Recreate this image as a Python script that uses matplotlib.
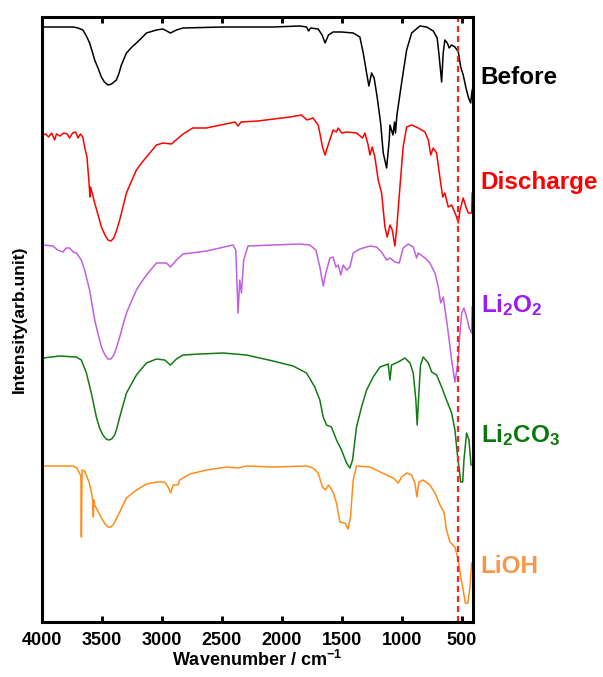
import matplotlib
matplotlib.use('Agg')
from matplotlib import pyplot as plt
from matplotlib import rc

# pogrubiona czcionka typu Arial, także w indeksach dolnych i górnych
rc('font', family='Liberation Sans', weight='bold')
rc('mathtext', fontset='custom', rm='Liberation Sans:bold',
   it='Liberation Sans:bold', bf='Liberation Sans:bold')

# widma FTIR: liczba falowa [cm^-1] i intensywność (z przesunięciem w pionie)
before_wn = [3992, 3742, 3700, 3659, 3630, 3603, 3580, 3561, 3530, 3505, 3480, 3450,
             3420, 3380, 3360, 3338, 3296, 3250, 3213, 3170, 3129, 3046, 2991, 2929,
             2879, 2824, 2490, 2073, 1850, 1794, 1777, 1760, 1697,
             1664, 1639, 1611, 1572, 1502, 1405, 1349, 1321, 1293, 1274, 1251, 1230,
             1205, 1176, 1154, 1126, 1104, 1098, 1073, 1060, 1052, 1040, 1001, 959,
             917, 848, 792, 737, 704, 687, 667, 654, 640, 620, 604, 584, 556, 528,
             508, 487, 464, 442, 425, 412]
before_int = [595, 595, 594, 592, 586, 579, 570, 562, 553, 545, 540, 537,
              538, 542, 548, 557, 569, 575, 579, 584, 589, 592, 593, 589,
              592, 594, 595, 595, 596, 595, 591, 594, 593,
              587, 579, 587, 590, 590, 589, 585, 569, 549, 536, 549, 544,
              525, 499, 469, 454, 482, 497, 487, 500, 489, 507, 539, 572,
              589, 596, 595, 591, 584, 565, 540, 569, 582, 579, 574, 577, 575, 570,
              555, 547, 534, 524, 519, 532]

discharge_wn = [3992, 3970, 3945, 3920, 3895, 3880, 3850, 3820, 3790, 3770, 3745, 3720,
                3700, 3680, 3660, 3645, 3625, 3608, 3600, 3595, 3561, 3530, 3505, 3475,
                3450, 3425, 3402, 3380, 3352, 3325, 3296, 3250, 3213, 3170, 3129, 3046,
                2991, 2921, 2824, 2743, 2629, 2390, 2365,
                2340, 2200, 1933, 1836, 1790, 1741, 1697, 1683, 1661, 1639, 1614, 1572,
                1545, 1530, 1500, 1460, 1377, 1327, 1307, 1280, 1265, 1246, 1224, 1196,
                1168, 1140, 1121, 1098, 1079, 1057, 1043, 1015, 988, 959, 917, 862,
                806, 778, 758, 737, 709, 681, 658, 640, 612, 584, 542, 528, 514, 487,
                464, 445, 417, 412]
discharge_int = [487, 488, 485, 489, 482, 488, 486, 489, 488, 484, 489, 490,
                 484, 488, 485, 475, 465, 439, 425, 435, 419, 406, 395, 387,
                 382, 381, 384, 391, 402, 415, 429, 442, 452, 459, 465, 477,
                 479, 478, 488, 494, 494, 500, 496,
                 500, 501, 505, 507, 502, 504, 497, 489, 475, 467, 477, 492,
                 490, 494, 489, 490, 489, 484, 489, 477, 467, 475, 465, 442,
                 429, 395, 385, 397, 392, 376, 392, 435, 475, 495, 497, 494,
                 490, 482, 467, 474, 469, 444, 425, 429, 415, 417, 405, 399, 412, 424,
                 415, 409, 409, 429]

li2o2_wn = [3992, 3909, 3870, 3826, 3800, 3770, 3740, 3714, 3672, 3645, 3603, 3561,
            3530, 3505, 3475, 3450, 3425, 3402, 3380, 3352, 3325, 3296, 3250, 3213,
            3170, 3129, 3046, 2963, 2927, 2879, 2824,
            2629, 2407, 2384, 2365, 2351, 2337, 2318, 2282, 2073, 1850, 1766, 1716,
            1683, 1655, 1633, 1599, 1572, 1549, 1530, 1507, 1488, 1460, 1432, 1405,
            1349, 1265, 1210, 1168, 1126, 1098, 1057, 1021, 988, 946, 904, 876,
            862, 806, 765, 723, 695, 675, 654, 626, 604, 584, 556, 528, 519, 500,
            481, 459, 437, 417, 412]
li2o2_int = [377, 376, 372, 370, 374, 374, 370, 369, 362, 352, 332, 302,
             287, 275, 267, 263, 263, 267, 274, 285, 297, 309, 322, 332,
             340, 347, 359, 359, 355, 362, 368,
             371, 377, 372, 309, 342, 329, 362, 376, 377, 378, 377, 372,
             355, 336, 349, 364, 365, 355, 357, 347, 357, 352, 355, 369,
             373, 376, 375, 370, 362, 364, 360, 359, 374, 378, 375, 364,
             369, 364, 359, 349, 335, 319, 325, 302, 282, 262, 240, 262, 282, 309,
             314, 305, 294, 289, 315]

li2co3_wn = [3992, 3853, 3714, 3672, 3630, 3589, 3547, 3520, 3492, 3465, 3444, 3420,
             3394, 3375, 3352, 3296,
             3213, 3129, 3046, 2977, 2929, 2879, 2824, 2685, 2490, 2295, 2073, 1906,
             1794, 1725, 1683, 1655, 1627, 1586, 1544, 1502, 1460, 1432, 1410, 1377,
             1335, 1293, 1238, 1182, 1113, 1098, 1085, 1029, 973, 931, 904, 882,
             871, 857, 843, 821, 778, 750, 709, 667, 626, 584, 556, 537, 508, 491,
             481, 459, 439, 422]
li2co3_int = [264, 266, 265, 262, 249, 229, 205, 194, 187, 183, 182, 183,
              187, 194, 205, 229,
              247, 259, 263, 262, 257, 263, 267, 268, 269, 267, 261, 256,
              249, 235, 222, 205, 197, 195, 182, 172, 159, 154, 162, 195,
              215, 232, 245, 255, 258, 242, 257, 260, 264, 259, 249, 222,
              197, 229, 257, 265, 259, 250, 247, 235, 222, 209, 192, 169, 140, 140,
              162, 189, 182, 157]

lioh_wn = [3992, 3742, 3709, 3692, 3676, 3672, 3666, 3645, 3608, 3585, 3576, 3572,
           3568, 3561, 3530, 3505, 3475, 3450, 3425, 3402, 3352, 3296, 3213, 3129,
           3046, 2977, 2949,
           2927, 2907, 2866, 2852, 2768, 2629, 2462, 2365, 2295, 2073, 1794, 1739,
           1697, 1661, 1636, 1611, 1572, 1544, 1516, 1474, 1447, 1427, 1405, 1377,
           1265, 1126, 1071, 1029, 1001, 959, 917, 890, 873, 857, 821, 765,
           723, 681, 648, 626, 598, 556, 528, 508, 487, 470, 448, 431, 417]
lioh_int = [156, 156, 154, 150, 146, 85, 152, 151, 140, 128, 120, 105,
            122, 117, 110, 104, 98, 95, 95, 98, 110, 124, 132, 138,
            140, 140, 135,
            129, 137, 137, 142, 148, 152, 155, 154, 156, 155, 156, 154,
            149, 135, 132, 137, 130, 119, 100, 99, 93, 105, 142, 156,
            155, 147, 144, 139, 145, 149, 147, 139, 125, 140, 142, 137,
            129, 117, 110, 92, 80, 75, 62, 45, 32, 19, 19, 35, 59]

names = ['Before', 'Discharge', r'Li$_2$O$_2$', r'Li$_2$CO$_3$', 'LiOH']
line_colors = ['black', '#ff0000', '#c060e0', '#137a13', '#ff8c1a']
text_colors = ['black', '#ff0000', '#9b1cf5', '#0a780a', '#f79646']
label_y = [0.876, 0.721, 0.539, 0.347, 0.154]

marker_wn = 530

fig = plt.figure(figsize=(6.03, 6.77), dpi=100)
ax = fig.add_axes([0.0697, 0.0812, 0.7148, 0.8937])

spectra = [(before_wn, before_int), (discharge_wn, discharge_int),
           (li2o2_wn, li2o2_int), (li2co3_wn, li2co3_int), (lioh_wn, lioh_int)]
for (wn, inten), c in zip(spectra, line_colors):
    ax.plot(wn, inten, color=c, lw=1.1)

ax.axvline(marker_wn, color='#ff2020', lw=1.6, ls=(0, (2.7, 1.8)))

for name, c, y in zip(names, text_colors, label_y):
    fig.text(0.797, y, name, color=c, fontsize=17.5, fontweight='bold', va='baseline')

ax.set_xlim(4000, 405)
ax.set_ylim(0, 605)
ax.set_xticks([4000, 3500, 3000, 2500, 2000, 1500, 1000, 500])
ax.set_yticks([])
ax.tick_params(axis='x', direction='in', top=True, length=4.5, width=2.1,
               labelsize=13, pad=7)
for s in ax.spines.values():
    s.set_linewidth(2.2)

ax.set_xlabel('Wavenumber / cm$^{-1}$', fontsize=13, fontweight='bold', labelpad=1)
ax.set_ylabel('Intensity(arb.unit)', fontsize=12.5, fontweight='bold', labelpad=11)

plt.savefig('out.png')
